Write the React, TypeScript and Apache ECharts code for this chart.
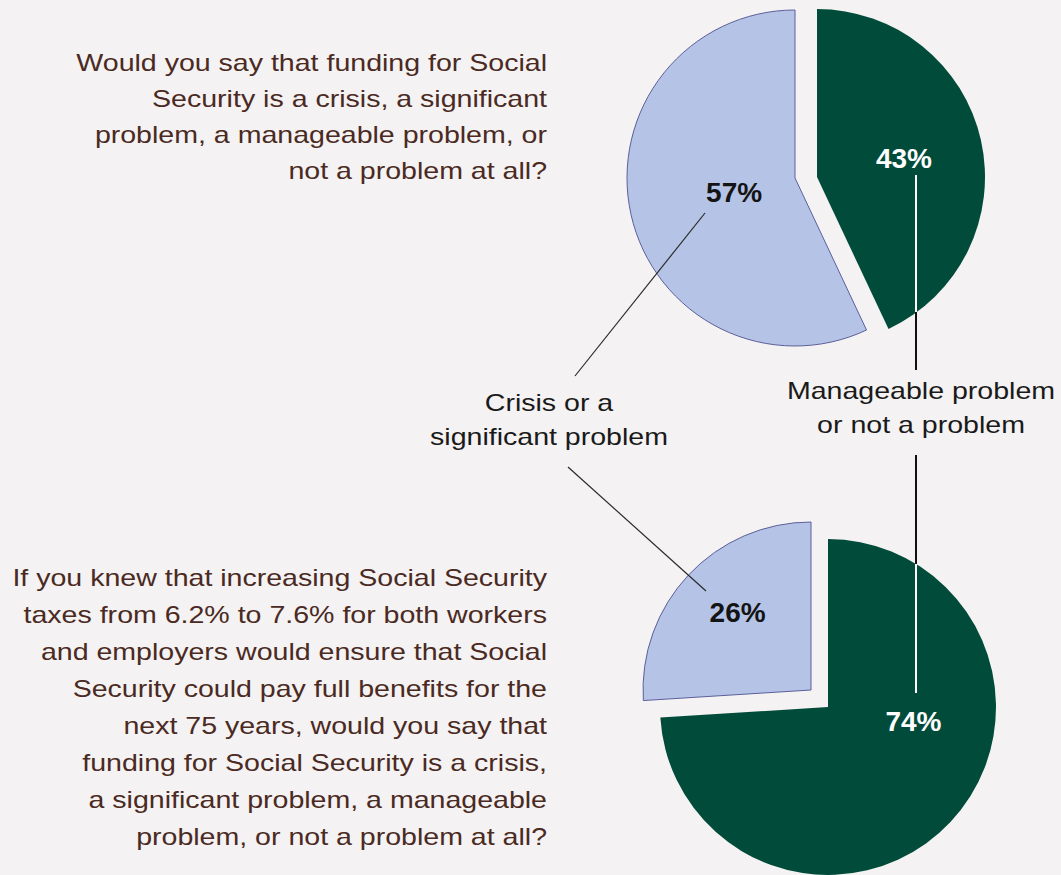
import React, { useEffect, useRef } from "react";
import * as echarts from "echarts";

const categories = ["Crisis or a significant problem", "Manageable problem or not a problem"];
const q1Values = [57, 43];
const q2Values = [26, 74];
const q1Lines = [
  "Would you say that funding for Social",
  "Security is a crisis, a significant",
  "problem, a manageable problem, or",
  "not a problem at all?",
];
const q2Lines = [
  "If you knew that increasing Social Security",
  "taxes from 6.2% to 7.6% for both workers",
  "and employers would ensure that Social",
  "Security could pay full benefits for the",
  "next 75 years, would you say that",
  "funding for Social Security is a crisis,",
  "a significant problem, a manageable",
  "problem, or not a problem at all?",
];
const leftLabel = ["Crisis or a", "significant problem"];
const rightLabel = ["Manageable problem", "or not a problem"];

const BLUE = "#b5c4e6";
const BLUE_BORDER = "#5b5f9b";
const GREEN = "#014b3a";
const BG = "#f4f2f2";
const BROWN = "#4a2a22";
const FONT = "'Liberation Sans', Arial, Helvetica, sans-serif";
const WIDEN = 1.19;

function sliceSeries(values: number[], showIndex: number, center: number[], dx: number, dy: number) {
  // order: manageable (green) first, then crisis (blue), clockwise from 12 o'clock
  const order = [1, 0];
  return {
    type: "pie",
    silent: true,
    center,
    radius: 168,
    startAngle: 90,
    clockwise: true,
    avoidLabelOverlap: false,
    labelLine: { show: false },
    labelLayout: { dx, dy },
    data: order.map((ci) => {
      const visible = ci === showIndex;
      const isBlue = ci === 0;
      return {
        name: categories[ci],
        value: values[ci],
        itemStyle: visible
          ? {
              color: isBlue ? BLUE : GREEN,
              borderColor: isBlue ? BLUE_BORDER : GREEN,
              borderWidth: isBlue ? 1 : 0,
            }
          : { color: "rgba(0,0,0,0)", borderWidth: 0 },
        label: visible
          ? {
              show: true,
              position: "inside",
              formatter: "{c}%",
              fontFamily: FONT,
              fontWeight: "bold",
              fontSize: 28,
              color: isBlue ? "#141414" : "#ffffff",
            }
          : { show: false },
      };
    }),
  };
}

export default function App() {
  const ref = useRef<HTMLDivElement>(null);
  useEffect(() => {
    if (!ref.current) return;
    const chart = echarts.init(ref.current, undefined, { renderer: "svg" });
    const textStyleQ = { font: `24px ${FONT}`, fill: BROWN, textAlign: "right", textVerticalAlign: "top" };
    const lineZ = 50;
    chart.setOption({
      animation: false,
      backgroundColor: BG,
      series: [
        sliceSeries(q1Values, 0, [795, 178], 24, -4),
        sliceSeries(q1Values, 1, [817, 177], 2, 0),
        sliceSeries(q2Values, 0, [811, 690], -10, -18),
        sliceSeries(q2Values, 1, [828, 707], 22, -45),
      ],
      graphic: [
        {
          type: "text",
          x: 547,
          y: 45,
          scaleX: WIDEN,
          style: { ...textStyleQ, text: q1Lines.join("\n"), lineHeight: 36 },
        },
        {
          type: "text",
          x: 547,
          y: 559,
          scaleX: WIDEN,
          style: { ...textStyleQ, text: q2Lines.join("\n"), lineHeight: 37 },
        },
        {
          type: "text",
          x: 549,
          y: 386,
          scaleX: WIDEN,
          style: {
            text: leftLabel.join("\n"),
            font: `24px ${FONT}`,
            fill: "#1a1a1a",
            textAlign: "center",
            textVerticalAlign: "top",
            lineHeight: 34,
          },
        },
        {
          type: "text",
          x: 921,
          y: 374,
          scaleX: WIDEN,
          style: {
            text: rightLabel.join("\n"),
            font: `24px ${FONT}`,
            fill: "#1a1a1a",
            textAlign: "center",
            textVerticalAlign: "top",
            lineHeight: 34,
          },
        },
        { type: "line", z: lineZ, shape: { x1: 705, y1: 213, x2: 575, y2: 376 }, style: { stroke: "#2a2a2a", lineWidth: 1.2 } },
        { type: "line", z: lineZ, shape: { x1: 568, y1: 467, x2: 706, y2: 591 }, style: { stroke: "#2a2a2a", lineWidth: 1.2 } },
        { type: "line", z: lineZ, shape: { x1: 916, y1: 175, x2: 916, y2: 312 }, style: { stroke: "#ffffff", lineWidth: 2 } },
        { type: "line", z: lineZ, shape: { x1: 916, y1: 312, x2: 916, y2: 370 }, style: { stroke: "#111111", lineWidth: 2 } },
        { type: "line", z: lineZ, shape: { x1: 916, y1: 455, x2: 916, y2: 564 }, style: { stroke: "#111111", lineWidth: 2 } },
        { type: "line", z: lineZ, shape: { x1: 916, y1: 564, x2: 916, y2: 693 }, style: { stroke: "#ffffff", lineWidth: 2 } },
      ],
    });
    return () => chart.dispose();
  }, []);
  return (
    <div
      ref={ref}
      style={{ position: "fixed", left: 0, top: 0, width: 1061, height: 875, background: BG }}
    />
  );
}
